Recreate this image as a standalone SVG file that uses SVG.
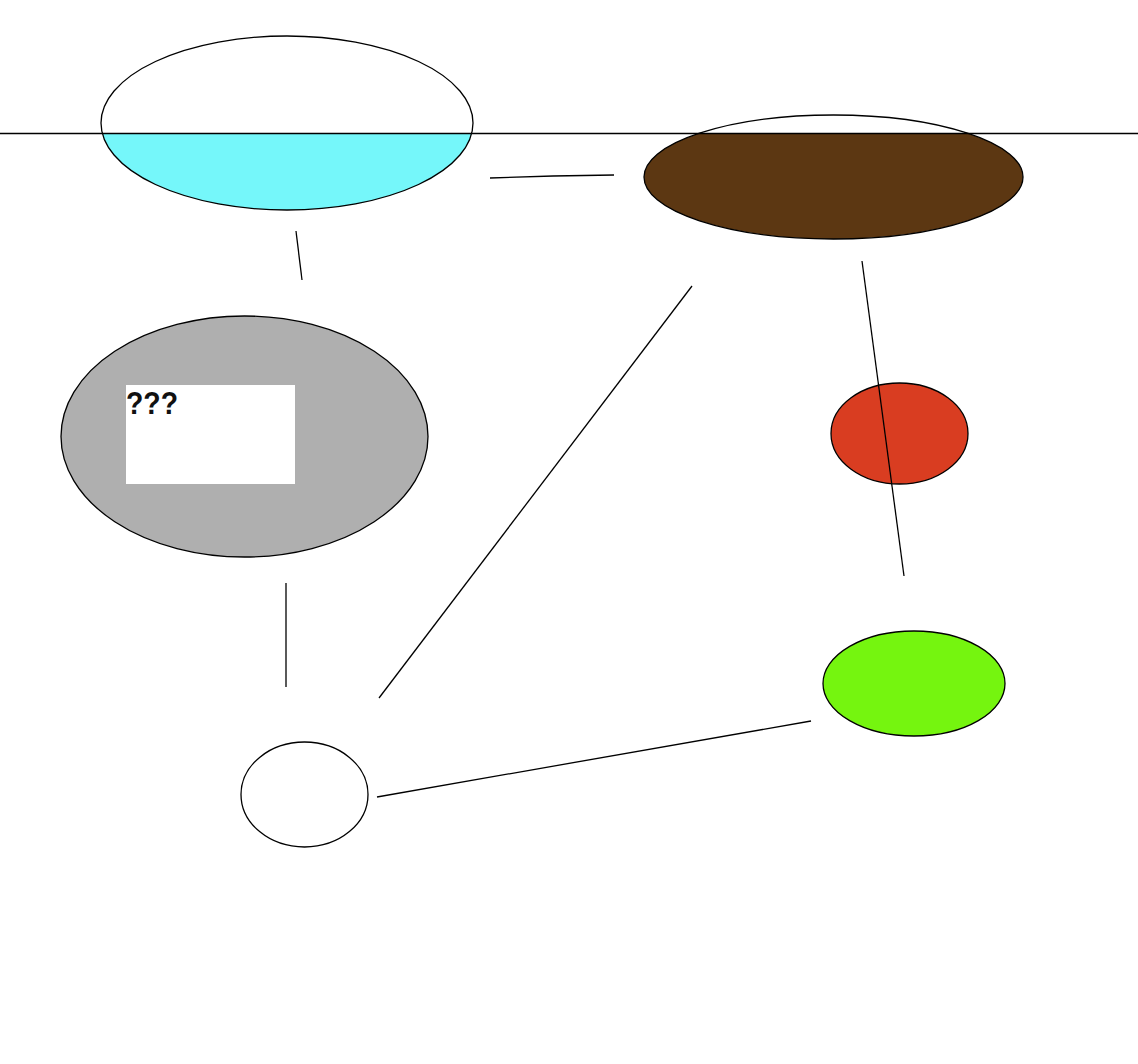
<svg xmlns="http://www.w3.org/2000/svg" width="1138" height="1064" viewBox="0 0 1138 1064">
<style>
.o{stroke:#000;stroke-width:1.3;}
.c{stroke:#000;stroke-width:1.3;fill:none;}
</style>
<defs>
<clipPath id="below"><rect x="0" y="133.5" width="1138" height="931"/></clipPath>
</defs>
<rect width="1138" height="1064" fill="#fff"/>
<g id="node-water">
<ellipse cx="287" cy="123" rx="186" ry="87" fill="#fff" stroke="none"/>
<ellipse cx="287" cy="123" rx="186" ry="87" fill="#75F7FA" stroke="none" clip-path="url(#below)"/>
<ellipse class="o" cx="287" cy="123" rx="186" ry="87" fill="none"/>
</g>
<g id="node-soil">
<ellipse cx="833.5" cy="177" rx="189.5" ry="62" fill="#fff" stroke="none"/>
<ellipse cx="833.5" cy="177" rx="189.5" ry="62" fill="#5C3712" stroke="none" clip-path="url(#below)"/>
<ellipse class="o" cx="833.5" cy="177" rx="189.5" ry="62" fill="none"/>
</g>
<g id="node-gray">
<ellipse class="o" cx="244.5" cy="436.5" rx="183.5" ry="120.5" fill="#AFAFAF"/>
<rect x="126" y="385" width="169" height="99" fill="#fff"/>
<text x="126" y="414" font-family="Liberation Sans, Arial, sans-serif" font-weight="bold" font-size="31" textLength="52" lengthAdjust="spacingAndGlyphs" fill="#111">???</text>
</g>
<g id="node-red">
<ellipse class="o" cx="899.5" cy="433.5" rx="68.5" ry="50.5" fill="#D93D21"/>
</g>
<g id="node-green">
<ellipse class="o" cx="914" cy="683.5" rx="91" ry="52.5" fill="#75F50F"/>
</g>
<g id="node-white">
<ellipse class="o" cx="304.5" cy="794.5" rx="63.5" ry="52.5" fill="#fff"/>
</g>
<g id="connectors">
<line class="c" x1="0" y1="133.5" x2="1138" y2="133.5"/>
<polyline class="c" points="490,178 553,176 614,175"/>
<line class="c" x1="296" y1="231" x2="302" y2="280"/>
<line class="c" x1="862" y1="261" x2="904" y2="576"/>
<line class="c" x1="692" y1="286" x2="379" y2="698"/>
<line class="c" x1="286" y1="583" x2="286" y2="687"/>
<line class="c" x1="377" y1="797" x2="811" y2="721"/>
</g>
</svg>
